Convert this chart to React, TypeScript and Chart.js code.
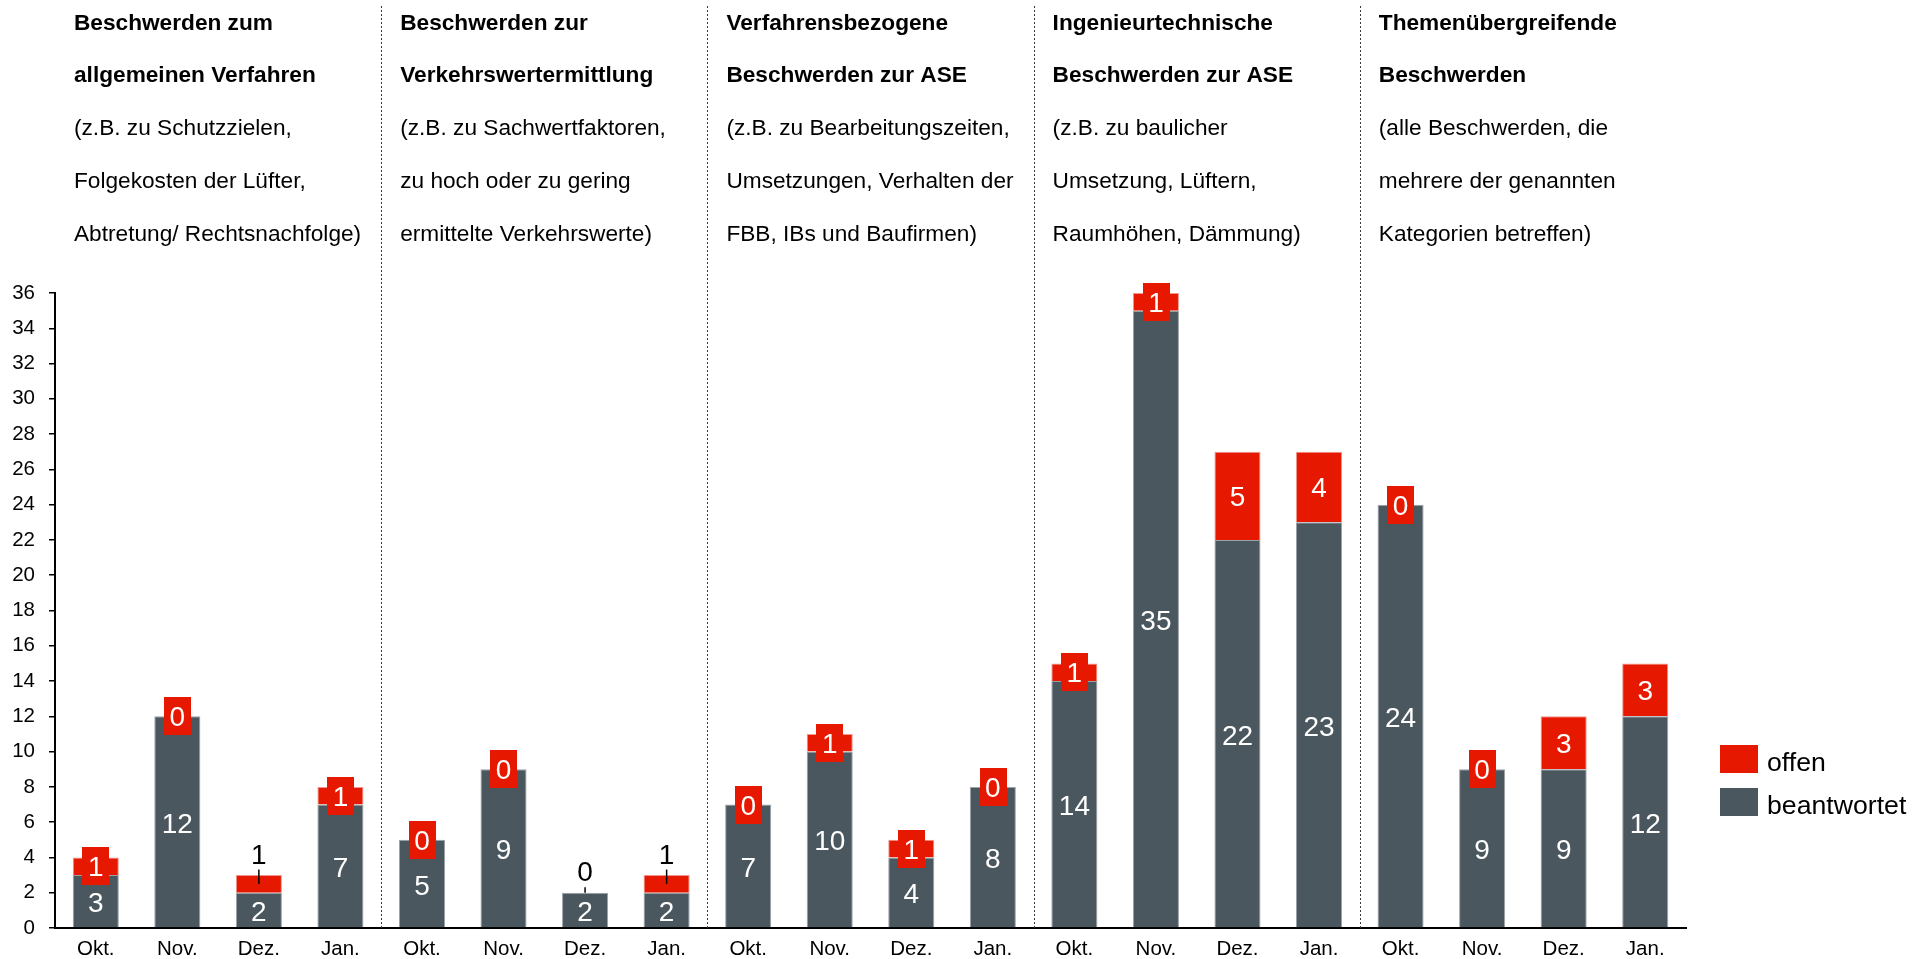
import React, { useEffect, useRef } from 'react';
import { Chart, registerables } from 'chart.js';

Chart.register(...registerables);

const FONT = "'Liberation Sans', Arial, Helvetica, sans-serif";

const categories = [
  'Okt.', 'Nov.', 'Dez.', 'Jan.',
  'Okt.', 'Nov.', 'Dez.', 'Jan.',
  'Okt.', 'Nov.', 'Dez.', 'Jan.',
  'Okt.', 'Nov.', 'Dez.', 'Jan.',
  'Okt.', 'Nov.', 'Dez.', 'Jan.',
];

const beantwortet = [3, 12, 2, 7, 5, 9, 2, 2, 7, 10, 4, 8, 14, 35, 22, 23, 24, 9, 9, 12];
const offen = [1, 0, 1, 1, 0, 0, 0, 1, 0, 1, 1, 0, 1, 1, 5, 4, 0, 0, 3, 3];

// labels of "offen" that are shown as callouts above the bar
const calloutIndices = [2, 6, 7];

const headerTitles = [
  ['Beschwerden zum', 'allgemeinen Verfahren'],
  ['Beschwerden zur', 'Verkehrswertermittlung'],
  ['Verfahrensbezogene', 'Beschwerden zur ASE'],
  ['Ingenieurtechnische', 'Beschwerden zur ASE'],
  ['Themenübergreifende', 'Beschwerden'],
];

const headerNotes = [
  ['(z.B. zu Schutzzielen,', 'Folgekosten der Lüfter,', 'Abtretung/ Rechtsnachfolge)'],
  ['(z.B. zu Sachwertfaktoren,', 'zu hoch oder zu gering', 'ermittelte Verkehrswerte)'],
  ['(z.B. zu Bearbeitungszeiten,', 'Umsetzungen, Verhalten der', 'FBB, IBs und Baufirmen)'],
  ['(z.B. zu baulicher', 'Umsetzung, Lüftern,', 'Raumhöhen, Dämmung)'],
  ['(alle Beschwerden, die', 'mehrere der genannten', 'Kategorien betreffen)'],
];

const groupSize = 4;
const yMin = 0;
const yMax = 36;
const yStep = 2;

const DARK = '#4B575F';
const RED = '#E61900';

const overlayPlugin = {
  id: 'overlay',
  beforeDatasetsDraw(chart: any) {
    const { ctx, chartArea, scales } = chart;
    const x = scales.x;
    ctx.save();
    ctx.strokeStyle = '#3a3a3a';
    ctx.lineWidth = 1;
    ctx.setLineDash([2, 2]);
    const groups = categories.length / groupSize;
    for (let g = 1; g < groups; g++) {
      const px = Math.round((x.getPixelForValue(g * groupSize - 1) + x.getPixelForValue(g * groupSize)) / 2) + 0.5;
      ctx.beginPath();
      ctx.moveTo(px, 6);
      ctx.lineTo(px, chartArea.bottom);
      ctx.stroke();
    }
    ctx.setLineDash([]);

    // headers
    ctx.fillStyle = '#000';
    ctx.textAlign = 'left';
    ctx.textBaseline = 'alphabetic';
    for (let g = 0; g < groups; g++) {
      const startX = g === 0
        ? chartArea.left
        : (x.getPixelForValue(g * groupSize - 1) + x.getPixelForValue(g * groupSize)) / 2;
      const lines = [...headerTitles[g], ...headerNotes[g]];
      lines.forEach((line, i) => {
        ctx.font = `${i < headerTitles[g].length ? 'bold ' : ''}22.67px ${FONT}`;
        ctx.fillText(line, startX + 19, 29.5 + i * 52.8);
      });
    }
    ctx.restore();
  },
  afterDatasetsDraw(chart: any) {
    const { ctx } = chart;
    const metaB = chart.getDatasetMeta(0);
    const metaO = chart.getDatasetMeta(1);
    ctx.save();
    ctx.font = `28px ${FONT}`;
    ctx.textAlign = 'center';
    ctx.textBaseline = 'alphabetic';

    // beantwortet labels
    metaB.data.forEach((el: any, i: number) => {
      const cy = (el.y + el.base) / 2;
      ctx.fillStyle = '#fff';
      ctx.fillText(String(beantwortet[i]), el.x, cy + 11);
    });

    // offen labels
    metaO.data.forEach((el: any, i: number) => {
      const top = Math.min(el.y, el.base);
      const cy = (el.y + el.base) / 2;
      const txt = String(offen[i]);
      if (calloutIndices.includes(i)) {
        const ly = top - 21.5;
        ctx.strokeStyle = '#000';
        ctx.lineWidth = 1.5;
        ctx.beginPath();
        ctx.moveTo(el.x, ly + 16);
        ctx.lineTo(el.x, cy);
        ctx.stroke();
        ctx.fillStyle = '#000';
        ctx.fillText(txt, el.x, ly + 10);
      } else {
        const w = ctx.measureText(txt).width + 11;
        const h = 38;
        ctx.fillStyle = RED;
        ctx.fillRect(Math.round(el.x - w / 2), Math.round(cy - h / 2), Math.round(w), h);
        ctx.fillStyle = '#fff';
        ctx.fillText(txt, el.x, cy + 10);
      }
    });

    // legend
    const items = [
      { label: chart.data.datasets[1].label, color: RED, y: 745 },
      { label: chart.data.datasets[0].label, color: DARK, y: 788 },
    ];
    ctx.textAlign = 'left';
    ctx.font = `26.67px ${FONT}`;
    items.forEach((it) => {
      ctx.fillStyle = it.color;
      ctx.fillRect(1720, it.y, 38, 28);
      ctx.fillStyle = '#000';
      ctx.fillText(it.label, 1767, it.y + 26);
    });
    ctx.restore();
  },
};

export default function App() {
  const ref = useRef<HTMLCanvasElement>(null);

  useEffect(() => {
    document.body.style.margin = '0';
    document.body.style.overflow = 'hidden';
    Chart.defaults.font.family = FONT;
    const chart = new Chart(ref.current as HTMLCanvasElement, {
      type: 'bar',
      data: {
        labels: categories,
        datasets: [
          {
            label: 'beantwortet',
            data: beantwortet,
            backgroundColor: DARK,
            borderColor: '#9aa2a7',
            borderWidth: 1,
            categoryPercentage: 1,
            barPercentage: 0.565,
          },
          {
            label: 'offen',
            data: offen,
            backgroundColor: RED,
            borderColor: '#f0968c',
            borderWidth: 1,
            categoryPercentage: 1,
            barPercentage: 0.565,
          },
        ],
      },
      options: {
        responsive: false,
        animation: false,
        events: [],
        layout: { padding: { top: 293, right: 243, left: 0, bottom: 0 } },
        plugins: {
          legend: { display: false },
          tooltip: { enabled: false },
        },
        scales: {
          x: {
            stacked: true,
            offset: true,
            grid: { display: false, drawTicks: false },
            border: { display: true, color: '#000', width: 2 },
            ticks: {
              color: '#000',
              font: { family: FONT, size: 20.5 },
              padding: 9,
              maxRotation: 0,
              autoSkip: false,
            },
            afterFit: (s: any) => {
              s.height = 31;
            },
          },
          y: {
            stacked: true,
            min: yMin,
            max: yMax,
            ticks: {
              stepSize: yStep,
              color: '#000',
              font: { family: FONT, size: 20.5 },
              padding: 14,
            },
            grid: {
              drawOnChartArea: false,
              drawTicks: true,
              tickLength: 6,
              color: '#000',
              lineWidth: 1.5,
            },
            border: { display: true, color: '#000', width: 2 },
            afterFit: (s: any) => {
              s.width = 55;
            },
          },
        },
      } as any,
      plugins: [overlayPlugin],
    });
    return () => chart.destroy();
  }, []);

  return (
    <div style={{ width: 1929, height: 959 }}>
      <canvas ref={ref} width={1929} height={959} style={{ display: 'block' }} />
    </div>
  );
}
